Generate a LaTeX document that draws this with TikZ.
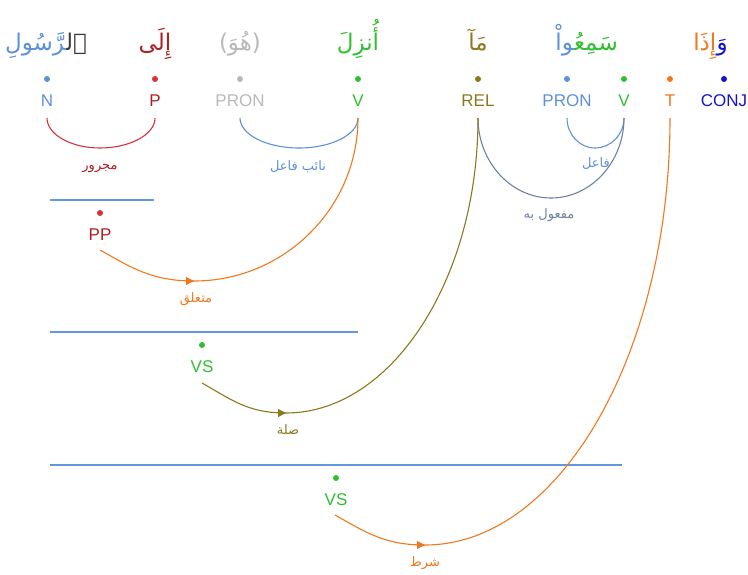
\documentclass[tikz,border=0pt]{standalone}
\usepackage{fontspec}
\setmainfont{Liberation Sans}
\newfontfamily\arabicfont[Script=Arabic]{DejaVu Sans}
\TeXXeTstate=1
\usetikzlibrary{arrows.meta,decorations.markings}
\definecolor{nblue}{RGB}{95,145,215}
\definecolor{pred}{RGB}{215,50,60}
\definecolor{pdark}{RGB}{175,30,35}
\definecolor{pgray}{RGB}{185,185,185}
\definecolor{vgreen}{RGB}{50,190,50}
\definecolor{olive}{RGB}{140,120,30}
\definecolor{slate}{RGB}{110,130,160}
\definecolor{torange}{RGB}{240,120,30}
\definecolor{cblue}{RGB}{20,20,200}
\definecolor{lineblue}{RGB}{100,150,225}
\definecolor{alblack}{RGB}{60,60,60}
\begin{document}
\begin{tikzpicture}[x=1pt,y=-1pt,
  word/.style={font=\arabicfont\fontsize{23}{27}\selectfont, inner sep=0pt, anchor=base east},
  tag/.style={font=\fontsize{17}{20}\selectfont, inner sep=0pt},
  dot/.style={circle, fill, inner sep=0pt, minimum size=6pt},
  rel/.style={font=\arabicfont\fontsize{13}{16}\selectfont, inner sep=0pt},
  arcline/.style={line width=1.1pt},
  tipend/.style={postaction={decorate}, decoration={markings, mark=at position 1 with {\arrow{Triangle[length=8pt,width=8pt]}}}},
  hline/.style={line width=1.4pt, draw=lineblue}]
\useasboundingbox (0,0) rectangle (748,574);
% words
\node[word, text=alblack] (w1a) at (87,50) {ٱل‍};
\node[word, text=nblue] (w1b) at (w1a.base west) {‍رَّسُولِ};
\node[word, text=pdark, anchor=base] (w2) at (155,50) {إِلَى};
\node[word, text=pgray, anchor=base] (w3) at (240,50) {(هُوَ)};
\node[word, text=vgreen, anchor=base] (w4) at (358,50) {أُنزِلَ};
\node[word, text=olive, anchor=base] (w5) at (478,50) {مَآ};
\node[word, text=vgreen] (w6a) at (618,50) {سَمِعُ‍};
\node[word, text=nblue] (w6b) at (w6a.base west) {‍واْ};
\node[word, text=cblue] (w7a) at (728,50) {وَ};
\node[word, text=torange] (w7b) at (w7a.base west) {إِذَا};
% dots
\node[dot, nblue] (dN) at (47,79) {};
\node[dot, pred] (dP) at (155,79) {};
\node[dot, pgray] (dPR) at (240,79) {};
\node[dot, vgreen] (dV) at (358,79) {};
\node[dot, olive] (dREL) at (478,79) {};
\node[dot, nblue] (dPR2) at (567,79) {};
\node[dot, vgreen] (dV2) at (624,79) {};
\node[dot, torange] (dT) at (670,79) {};
\node[dot, cblue] (dC) at (724,79) {};
% tags
\node[tag, text=nblue] (tN) at (47,101) {N};
\node[tag, text=pdark] (tP) at (155,101) {P};
\node[tag, text=pgray] (tPR) at (240,101) {PRON};
\node[tag, text=vgreen] (tV) at (358,101) {V};
\node[tag, text=olive] (tREL) at (478,101) {REL};
\node[tag, text=nblue] (tPR2) at (567,101) {PRON};
\node[tag, text=vgreen] (tV2) at (624,101) {V};
\node[tag, text=torange] (tT) at (670,101) {T};
\node[tag, text=cblue] (tC) at (724,101) {CONJ};
% arc ends
\coordinate (aN) at (47,118);
\coordinate (aP) at (155,118);
\coordinate (aPR) at (240,118);
\coordinate (aV) at (358,118);
\coordinate (aREL) at (478,118);
\coordinate (aPR2) at (567,118);
\coordinate (aV2) at (624,118);
\coordinate (aT) at (670,118);
% sub-phrases
\coordinate (l1a) at (50,200); \coordinate (l1b) at (154,200);
\draw[hline] (l1a) -- (l1b);
\node[dot, pred] (dPP) at (100,213) {};
\node[tag, text=pdark] (tPP) at (100,235) {PP};
\coordinate (aPP) at (100,250);
\coordinate (l2a) at (50,332); \coordinate (l2b) at (358,332);
\draw[hline] (l2a) -- (l2b);
\node[dot, vgreen] (dVS1) at (202,345) {};
\node[tag, text=vgreen] (tVS1) at (202,367) {VS};
\coordinate (aVS1) at (202,383);
\coordinate (l3a) at (50,465); \coordinate (l3b) at (622,465);
\draw[hline] (l3a) -- (l3b);
\node[dot, vgreen] (dVS2) at (336,478) {};
\node[tag, text=vgreen] (tVS2) at (336,500) {VS};
\coordinate (aVS2) at (335,515);
% arcs
\coordinate (b1) at (100,148);
\draw[arcline, pred, tipend] (aN) .. controls +(0,16.5) and +(-29,0) .. (b1);
\draw[arcline, pred] (b1) .. controls +(30,0) and +(0,16.5) .. (aP);
\node[rel, text=pdark] (r1) at (100,168) {مجرور};
\coordinate (b2) at (299,148);
\draw[arcline, nblue, tipend] (aPR) .. controls +(0,16.5) and +(-32.5,0) .. (b2);
\draw[arcline, nblue] (b2) .. controls +(32.5,0) and +(0,16.5) .. (aV);
\node[rel, text=nblue] (r2) at (298,167) {\beginR نائب فاعل\endR};
\coordinate (b3) at (595,148);
\draw[arcline, nblue, tipend] (aPR2) .. controls +(0,16.5) and +(-15.5,0) .. (b3);
\draw[arcline, nblue] (b3) .. controls +(16,0) and +(0,16.5) .. (aV2);
\node[rel, text=nblue] (r3) at (596,164) {فاعل};
\coordinate (b4) at (551,198);
\draw[arcline, slate, tipend] (aREL) .. controls +(0,44) and +(-40,0) .. (b4);
\draw[arcline, slate] (b4) .. controls +(40,0) and +(0,44) .. (aV2);
\node[rel, text=slate] (r4) at (549,215) {\beginR مفعول به\endR};
\coordinate (b5) at (194,281);
\draw[arcline, torange, tipend] (aPP) .. controls +(32,18) and +(-42,0) .. (b5);
\draw[arcline, torange] (b5) .. controls +(90,0) and +(0,90) .. (aV);
\node[rel, text=torange] (r5) at (196,299) {متعلق};
\coordinate (b6) at (286,413);
\draw[arcline, olive, tipend] (aVS1) .. controls +(30,17) and +(-38,0) .. (b6);
\draw[arcline, olive] (b6) .. controls +(105,0) and +(0,162) .. (aREL);
\node[rel, text=olive] (r6) at (288,430) {صلة};
\coordinate (b7) at (425,545);
\draw[arcline, torange, tipend] (aVS2) .. controls +(32,18) and +(-40,0) .. (b7);
\draw[arcline, torange] (b7) .. controls +(135,0) and +(0,235) .. (aT);
\node[rel, text=torange] (r7) at (425,563) {شرط};
\end{tikzpicture}
\end{document}
